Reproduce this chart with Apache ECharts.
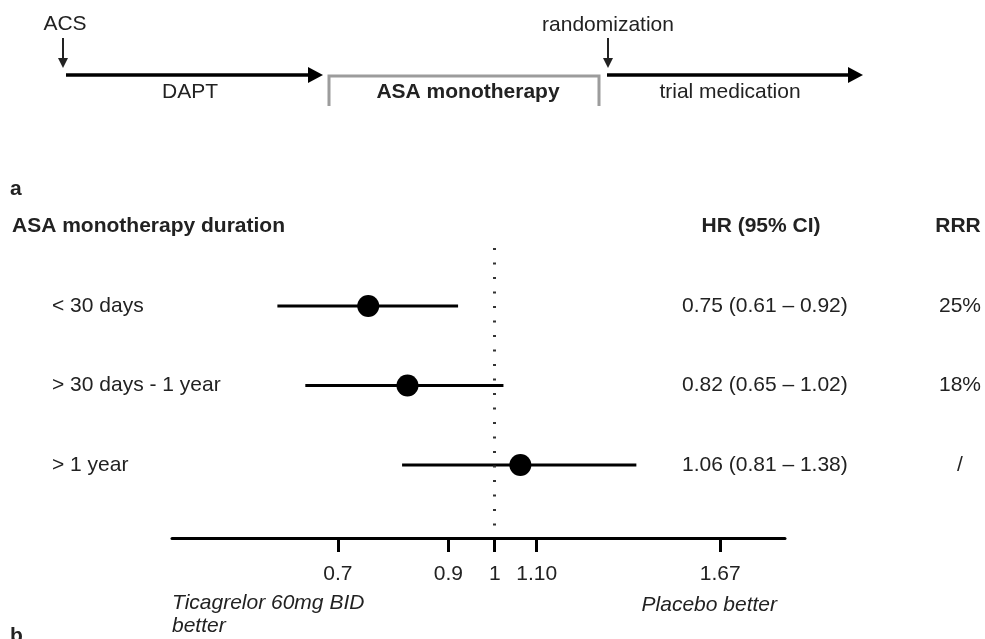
<!DOCTYPE html>
<html>
	<head>
		<meta charset="utf-8">
		<title>ASA monotherapy duration - forest plot</title>
		<script src="https://cdn.jsdelivr.net/npm/echarts@6/dist/echarts.min.js"></script>
		<style type="text/css">
			html, body { margin: 0; padding: 0; background: #fff; }
			#main { width: 985px; height: 639px; }
		</style>
	</head>
	<body>
		<div id="main"></div>
		<script type="text/javascript">
			// data
			var rowLabels = ['< 30 days', '> 30 days - 1 year', '> 1 year'];
			var hr = [0.75, 0.82, 1.06];
			var ciLow = [0.61, 0.65, 0.81];
			var ciHigh = [0.92, 1.02, 1.38];
			var rrr = ['25%', '18%', '/'];
			var tickValues = [0.7, 0.9, 1, 1.1, 1.67];
			var tickLabels = ['0.7', '0.9', '1', '1.10', '1.67'];

			var FONT = "'Liberation Sans', Arial, sans-serif";
			var TXT = '#222';

			// the HR axis is drawn on a log scale (values are passed as ln(HR))
			var ln = Math.log;
			var tickLogs = tickValues.map(ln);
			var rowIdx = rowLabels.map(function(d, i) { return i; });

			var hrText = hr.map(function(v, i) {
				return v.toFixed(2) + ' (' + ciLow[i].toFixed(2) + ' \u2013 ' + ciHigh[i].toFixed(2) + ')';
			});

			var ciData = rowIdx.map(function(i) { return [ln(ciLow[i]), ln(ciHigh[i]), i]; });
			var pointData = rowIdx.map(function(i) { return [ln(hr[i]), i]; });

			function yAxisBase() {
				return {
					type: 'value',
					inverse: true,
					min: -0.73,
					max: 2.92,
					axisLine: { show: false },
					axisTick: { show: false },
					splitLine: { show: false }
				};
			}

			var yRows = yAxisBase();
			yRows.position = 'left';
			yRows.axisLabel = {
				customValues: rowIdx, margin: 120, align: 'left',
				fontSize: 21, fontFamily: FONT, color: TXT,
				formatter: function(v) { return rowLabels[Math.round(v)]; }
			};

			var yHr = yAxisBase();
			yHr.position = 'right';
			yHr.offset = -103;
			yHr.axisLabel = {
				customValues: rowIdx, margin: 0, align: 'left',
				fontSize: 21, fontFamily: FONT, color: TXT,
				formatter: function(v) { return hrText[Math.round(v)]; }
			};

			var yRrr = yAxisBase();
			yRrr.position = 'right';
			yRrr.offset = 175;
			yRrr.axisLabel = {
				customValues: rowIdx, margin: 0, align: 'center',
				fontSize: 21, fontFamily: FONT, color: TXT,
				formatter: function(v) { return rrr[Math.round(v)]; }
			};

			function txt(x, y, s, opt) {
				opt = opt || {};
				return {
					type: 'text', x: x, y: y, silent: true,
					style: {
						text: s, fill: TXT, fontSize: 21, fontFamily: FONT,
						fontWeight: opt.bold ? 'bold' : 'normal',
						fontStyle: opt.italic ? 'italic' : 'normal',
						align: opt.align || 'left', verticalAlign: 'middle'
					}
				};
			}

			function arrowDown(x, y1, y2) {
				return [
					{ type: 'line', silent: true, shape: { x1: x, y1: y1, x2: x, y2: y2 - 8 }, style: { stroke: '#222', lineWidth: 2 } },
					{ type: 'polygon', silent: true, shape: { points: [[x - 5, y2 - 10], [x + 5, y2 - 10], [x, y2]] }, style: { fill: '#222' } }
				];
			}

			function arrowRight(x1, x2, y) {
				return [
					{ type: 'line', silent: true, shape: { x1: x1, y1: y, x2: x2 - 12, y2: y }, style: { stroke: '#000', lineWidth: 3.5 } },
					{ type: 'polygon', silent: true, shape: { points: [[x2 - 15, y - 8], [x2, y], [x2 - 15, y + 8]] }, style: { fill: '#000' } }
				];
			}

			// timeline sketch above the plot
			var graphics = [].concat(
				[txt(65, 24, 'ACS', { align: 'center' })],
				arrowDown(63, 38, 68),
				arrowRight(66, 323, 75),
				[txt(190, 92, 'DAPT', { align: 'center' })],
				[{ type: 'polyline', silent: true, shape: { points: [[329, 106], [329, 76], [599, 76], [599, 106]] }, style: { stroke: '#9c9c9c', lineWidth: 3, fill: null } }],
				[txt(468, 92, 'ASA monotherapy', { align: 'center', bold: true })],
				[txt(608, 25, 'randomization', { align: 'center' })],
				arrowDown(608, 38, 68),
				arrowRight(607, 863, 75),
				[txt(730, 92, 'trial medication', { align: 'center' })],
				[txt(10, 189, 'a', { bold: true })],
				[txt(10, 636, 'b', { bold: true })],
				[txt(12, 226, 'ASA monotherapy duration', { bold: true })],
				[txt(761, 226, 'HR (95% CI)', { align: 'center', bold: true })],
				[txt(958, 226, 'RRR', { align: 'center', bold: true })],
				[txt(172, 603, 'Ticagrelor 60mg BID', { italic: true })],
				[txt(172, 626, 'better', { italic: true })],
				[txt(777, 605, 'Placebo better', { align: 'right', italic: true })]
			);

			var myChart = echarts.init(document.getElementById('main'));
			myChart.setOption({
				animation: false,
				backgroundColor: '#fff',
				textStyle: { fontFamily: FONT },
				grid: { left: 172, right: 200, top: 248, bottom: 101, containLabel: false, outerBoundsMode: 'none' },
				xAxis: {
					type: 'value',
					position: 'bottom',
					min: ln(0.48),
					max: ln(1.935),
					axisLine: { onZero: false, lineStyle: { color: '#000', width: 3 } },
					axisTick: { customValues: tickLogs, length: 14, lineStyle: { color: '#000', width: 3 } },
					axisLabel: {
						customValues: tickLogs, margin: 26, fontSize: 21, fontFamily: FONT, color: TXT,
						formatter: function(v) {
							for (var i = 0; i < tickLogs.length; i++) {
								if (Math.abs(tickLogs[i] - v) < 1e-6) return tickLabels[i];
							}
							return '';
						}
					},
					splitLine: { show: false }
				},
				yAxis: [yRows, yHr, yRrr],
				graphic: graphics,
				series: [{
					// confidence intervals
					type: 'custom',
					data: ciData,
					encode: { x: [0, 1], y: 2 },
					renderItem: function(params, api) {
						var a = api.coord([api.value(0), api.value(2)]);
						var b = api.coord([api.value(1), api.value(2)]);
						return { type: 'line', shape: { x1: a[0], y1: a[1], x2: b[0], y2: b[1] }, style: { stroke: '#000', lineWidth: 3 } };
					},
					markLine: {
						silent: true,
						symbol: ['none', 'none'],
						label: { show: false },
						lineStyle: { type: [2, 12.5], width: 3, color: '#333' },
						data: [{ xAxis: 0 }]
					}
				}, {
					// point estimates
					type: 'scatter',
					data: pointData,
					symbol: 'circle',
					symbolSize: 22,
					itemStyle: { color: '#000', opacity: 1 },
					z: 3
				}]
			});
		</script>
	</body>
</html>
